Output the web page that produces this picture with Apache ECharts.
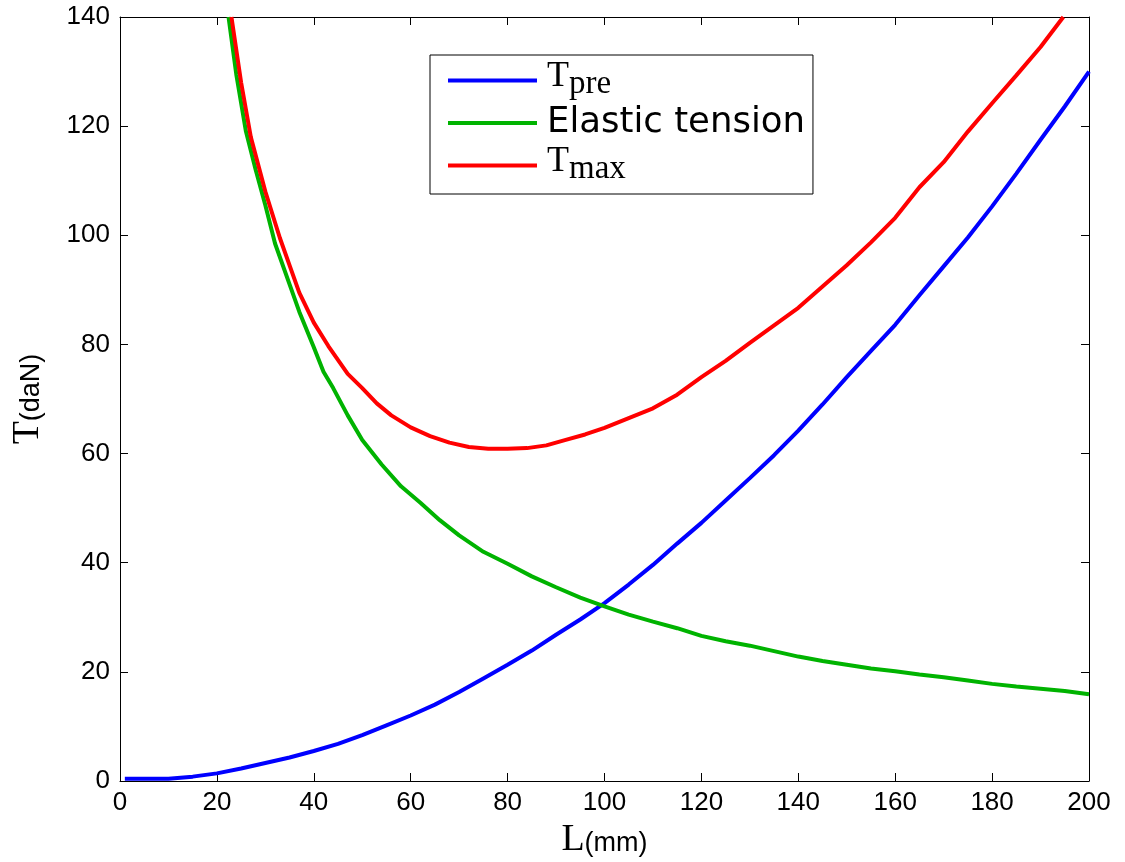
<!DOCTYPE html>
<html>
<head>
<meta charset="utf-8">
<script src="https://cdn.jsdelivr.net/npm/echarts@6/dist/echarts.min.js"></script>
<style>html,body{margin:0;padding:0;background:#fff;}#c{width:1125px;height:862px;}</style>
</head>
<body>
<div id="c"></div>
<script>
// L (mm) values and T (daN) values
const tpreL = [1, 5, 10, 15, 20, 25, 30, 35, 40, 45, 50, 55, 60, 65, 70, 75, 80, 85, 90, 95, 100, 105, 110, 115, 120, 125, 130, 135, 140, 145, 150, 155, 160, 165, 170, 175, 180, 185, 190, 195, 200];
const tpreT = [0.4, 0.4, 0.4, 0.8, 1.4, 2.3, 3.3, 4.3, 5.5, 6.8, 8.4, 10.2, 12, 14, 16.3, 18.8, 21.3, 23.9, 26.8, 29.6, 32.6, 36, 39.6, 43.5, 47.3, 51.4, 55.5, 59.7, 64.2, 69, 74, 78.8, 83.6, 89, 94.3, 99.6, 105.3, 111.3, 117.5, 123.6, 130];

const elasticL = [22.4, 24, 26, 28, 30, 32, 35, 37, 40, 42, 44, 47, 50, 54, 58, 62, 66, 70, 75, 80, 85, 90, 95, 100, 105, 110, 115, 120, 125, 130, 135, 140, 145, 150, 155, 160, 165, 170, 175, 180, 185, 190, 195, 200];
const elasticT = [140, 129.5, 119, 112, 105.5, 98.5, 91, 86, 79.5, 75, 72, 67, 62.5, 58, 54, 51, 47.8, 45, 42, 39.8, 37.5, 35.5, 33.6, 32, 30.5, 29.2, 28, 26.6, 25.6, 24.8, 23.8, 22.8, 22, 21.3, 20.6, 20.1, 19.5, 19, 18.4, 17.8, 17.3, 16.9, 16.5, 15.9];

const tmaxL = [23, 25, 27, 30, 33, 35, 37, 40, 43, 47, 50, 53, 56, 60, 64, 68, 72, 76, 80, 84, 88, 92, 96, 100, 105, 110, 115, 120, 125, 130, 135, 140, 145, 150, 155, 160, 165, 170, 175, 180, 185, 190, 194.7];
const tmaxT = [140, 128, 118, 108, 99.5, 94.5, 89.5, 84, 79.7, 74.6, 72, 69.2, 67, 64.8, 63.2, 62, 61.2, 60.9, 60.9, 61, 61.5, 62.5, 63.5, 64.7, 66.5, 68.3, 70.8, 74, 77, 80.3, 83.5, 86.7, 90.6, 94.5, 98.7, 103.2, 108.8, 113.4, 119, 124.2, 129.3, 134.5, 140];

const xTicks = { min: 0, max: 200, interval: 20 };
const yTicks = { min: 0, max: 140, interval: 20 };

function pairs(xs, ys) { return xs.map((x, i) => [x, ys[i]]); }

const chart = echarts.init(document.getElementById('c'), null, { renderer: 'canvas' });

const axisLine = { show: true, onZero: false, lineStyle: { color: '#000', width: 1 } };
const axisTick = { show: true, inside: true, length: 8, lineStyle: { color: '#000', width: 1 } };
const labelFont = { fontFamily: 'Liberation Sans', fontSize: 26, color: '#000' };

const subRich = {
  t: { fontFamily: 'Liberation Serif', fontSize: 38, lineHeight: 38, color: '#000', padding: [0, 0, 4, 0] },
  s: { fontFamily: 'Liberation Sans', fontSize: 27, lineHeight: 38, color: '#000', padding: [4, 0, 0, 0] }
};
const legRich = {
  t: { fontFamily: 'Liberation Serif', fontSize: 36, lineHeight: 36, color: '#000', padding: [0, 0, 7, 0] },
  s: { fontFamily: 'Liberation Serif', fontSize: 33, lineHeight: 36, color: '#000', padding: [7, 0, 0, 0] },
  e: { fontFamily: 'DejaVu Sans', fontSize: 35.5, lineHeight: 40, color: '#000' }
};

const option = {
  animation: false,
  backgroundColor: '#fff',
  grid: { left: 120, top: 17, right: 36, bottom: 81, containLabel: false, outerBoundsMode: 'none' },
  legend: {
    left: 430, top: 55,
    orient: 'vertical',
    icon: 'rect',
    itemWidth: 89, itemHeight: 4,
    itemGap: 3,
    selectedMode: false,
    backgroundColor: '#fff',
    borderColor: '#000', borderWidth: 1,
    padding: [4, 8, 7, 18],
    textStyle: { padding: [0, 0, 0, 5], rich: legRich },
    formatter: function (name) {
      if (name === 'Tpre') return '{t|T}{s|pre}';
      if (name === 'Tmax') return '{t|T}{s|max}';
      return '{e|' + name + '}';
    },
    data: ['Tpre', 'Elastic tension', 'Tmax']
  },
  xAxis: [
    {
      type: 'value', position: 'bottom', ...xTicks,
      axisLine, axisTick, splitLine: { show: false },
      axisLabel: { ...labelFont, margin: 9 },
      name: '{t|L}{s|(mm)}', nameLocation: 'middle', nameGap: 34,
      nameTextStyle: { rich: subRich }
    },
    {
      type: 'value', position: 'top', ...xTicks,
      axisLine, axisTick, splitLine: { show: false }, axisLabel: { show: false }
    }
  ],
  yAxis: [
    {
      type: 'value', position: 'left', ...yTicks,
      axisLine, axisTick, splitLine: { show: false },
      axisLabel: { ...labelFont, margin: 10 },
      name: '{t|T}{s|(daN)}', nameLocation: 'middle', nameGap: 71,
      nameTextStyle: { rich: subRich }
    },
    {
      type: 'value', position: 'right', ...yTicks,
      axisLine, axisTick, splitLine: { show: false }, axisLabel: { show: false }
    }
  ],
  series: [
    { name: 'Tpre', type: 'line', data: pairs(tpreL, tpreT), symbol: 'none', clip: true,
      lineStyle: { color: '#0000ff', width: 4 }, itemStyle: { color: '#0000ff' } },
    { name: 'Elastic tension', type: 'line', data: pairs(elasticL, elasticT), symbol: 'none', clip: true,
      lineStyle: { color: '#00b300', width: 4 }, itemStyle: { color: '#00b300' } },
    { name: 'Tmax', type: 'line', data: pairs(tmaxL, tmaxT), symbol: 'none', clip: true,
      lineStyle: { color: '#ff0000', width: 4 }, itemStyle: { color: '#ff0000' } }
  ]
};
chart.setOption(option);
</script>
</body>
</html>
